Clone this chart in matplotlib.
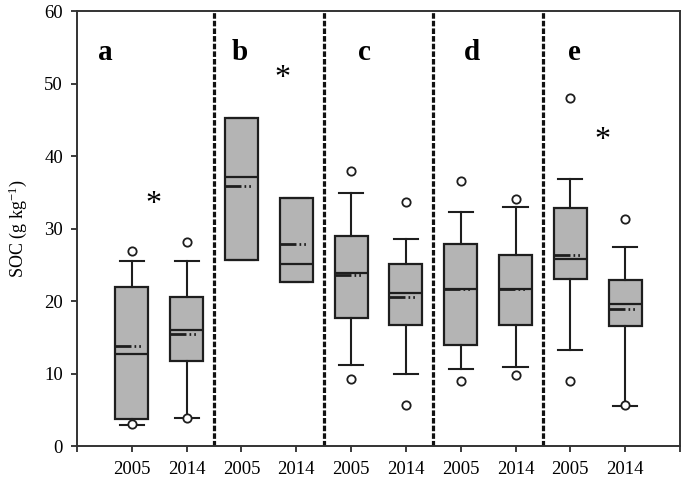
import matplotlib
matplotlib.use("Agg")
import matplotlib.pyplot as plt
import numpy as np

plt.rcParams['font.family'] = ['Liberation Serif', 'DejaVu Serif']
plt.rcParams['mathtext.default'] = 'regular'
plt.rcParams['lines.scale_dashes'] = False

# ---- data (g kg-1) ----
years = ['2005', '2014', '2005', '2014', '2005', '2014', '2005', '2014', '2005', '2014']
panels = ['a', 'b', 'c', 'd', 'e']
q1 = [3.7, 11.7, 25.7, 22.6, 17.7, 16.7, 13.9, 16.7, 23.0, 16.5]
q3 = [21.9, 20.6, 45.2, 34.2, 28.9, 25.1, 27.9, 26.3, 32.8, 22.9]
medians = [12.7, 16.0, 37.1, 25.1, 23.8, 21.1, 21.7, 21.7, 25.8, 19.6]
means = [13.8, 15.5, 35.8, 27.8, 23.6, 20.5, 21.7, 21.7, 26.4, 18.9]
whisker_low = [2.85, 3.8, 25.7, 22.6, 11.2, 10.0, 10.6, 10.9, 13.2, 5.5]
whisker_high = [25.5, 25.5, 45.2, 34.2, 34.9, 28.6, 32.3, 32.9, 36.8, 27.5]
outliers = [[26.9, 3.0], [28.1, 3.8], [], [], [37.9, 9.3], [33.6, 5.7],
            [36.6, 9.0], [34.1, 9.8], [48.0, 8.9], [31.3, 5.6]]
# significance marks (asterisks)
sig_x = [1.39, 3.74, 9.59]
sig_y = [33.3, 50.7, 42.2]

# layout: panel letter positions
letter_x = [0.52, 2.96, 5.24, 7.2, 9.07]
letter_y = 54.3

fig = plt.figure(figsize=(6.85, 4.86), dpi=100)
ax = fig.add_axes([77 / 685, 40 / 486, 603 / 685, 435 / 486])

positions = np.arange(1, len(years) + 1)
stats = []
for i in range(len(years)):
    stats.append(dict(med=medians[i], q1=q1[i], q3=q3[i], whislo=whisker_low[i],
                      whishi=whisker_high[i], fliers=outliers[i], mean=means[i]))

ax.bxp(stats, positions=positions, widths=0.6, patch_artist=True,
       showmeans=True, meanline=True,
       boxprops=dict(facecolor='#b4b4b4', edgecolor='#1e1e1e', linewidth=1.6),
       medianprops=dict(color='#1e1e1e', linewidth=1.6),
       whiskerprops=dict(color='#1e1e1e', linewidth=1.5),
       capprops=dict(color='#1e1e1e', linewidth=1.5),
       capwidths=0.44,
       meanprops=dict(color='#1e1e1e', linewidth=2.0,
                      linestyle=(0, (11.5, 2.2, 1.2, 2.2, 1.2, 20))),
       flierprops=dict(marker='o', markersize=6, markerfacecolor='white',
                       markeredgecolor='#1e1e1e', markeredgewidth=1.3))

# panel separators
for k in range(1, len(panels)):
    ax.axvline(2 * k + 0.5, color='#111111', linestyle=(0, (4.0, 1.5)), linewidth=2.3)

# panel letters
for lx, lab in zip(letter_x, panels):
    ax.text(lx, letter_y, lab, fontsize=21, fontweight='bold', ha='center', va='center')

# significance asterisks
for sx, sy in zip(sig_x, sig_y):
    ax.text(sx, sy, '*', fontsize=23, ha='center', va='center')

ax.set_xlim(0, 11)
ax.set_ylim(0, 60)
ax.set_xticks(np.arange(0, 12))
ax.set_xticklabels([''] + years + [''])
ax.set_yticks(np.arange(0, 61, 10))
ax.tick_params(axis='both', direction='out', length=4, width=1.2, labelsize=13.5,
               color='#1a1a1a')
ax.tick_params(axis='x', pad=7)
ax.tick_params(axis='y', pad=6)
for s in ax.spines.values():
    s.set_linewidth(1.4)
    s.set_color('#333333')

ax.set_ylabel('SOC (g kg$^{-1}$)', fontsize=13, labelpad=11)

fig.savefig('out.png', dpi=100)
